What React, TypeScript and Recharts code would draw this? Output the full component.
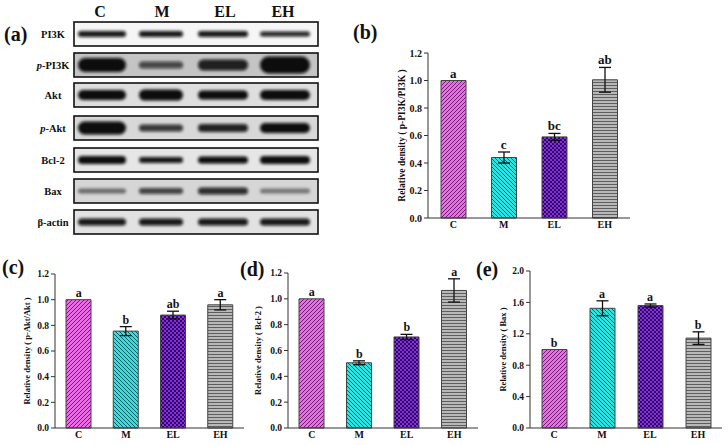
import React from "react";
import {
  ComposedChart,
  Bar,
  Line,
  XAxis,
  YAxis,
  ErrorBar,
  LabelList,
  Cell,
} from "recharts";

const groups = ["C", "M", "EL", "EH"];

// (b) p-PI3K / PI3K
const pi3kMean = [1.0, 0.44, 0.59, 1.005];
const pi3kErr = [0, 0.04, 0.025, 0.09];
const pi3kSig = ["a", "c", "bc", "ab"];

// (c) p-Akt / Akt
const aktMean = [1.0, 0.755, 0.88, 0.96];
const aktErr = [0, 0.035, 0.03, 0.04];
const aktSig = ["a", "b", "ab", "a"];

// (d) Bcl-2
const bcl2Mean = [1.0, 0.505, 0.705, 1.065];
const bcl2Err = [0, 0.015, 0.02, 0.09];
const bcl2Sig = ["a", "b", "b", "a"];

// (e) Bax
const baxMean = [1.0, 1.525, 1.56, 1.145];
const baxErr = [0, 0.095, 0.02, 0.08];
const baxSig = ["b", "a", "a", "b"];

const ticks12 = [0, 0.2, 0.4, 0.6, 0.8, 1.0, 1.2];
const ticks20 = [0, 0.4, 0.8, 1.2, 1.6, 2.0];

// western blot (a)
const blotRows = ["PI3K", "p-PI3K", "Akt", "p-Akt", "Bcl-2", "Bax", "β-actin"];
const bandThick = [
  [6, 6, 6, 5],
  [14, 7, 11, 17],
  [10, 11, 9, 10],
  [13, 7, 8, 10],
  [8, 6, 7, 8],
  [5, 6, 7, 5],
  [7, 7, 7, 7],
];
const bandDark = [
  [0.95, 0.95, 0.95, 0.9],
  [1, 0.7, 0.9, 1],
  [1, 1, 1, 1],
  [1, 0.8, 0.9, 1],
  [1, 0.95, 1, 1],
  [0.5, 0.75, 0.85, 0.45],
  [0.95, 0.95, 0.95, 0.95],
];
const blotBg = ["#f6f6f6", "#c4c4c4", "#dedede", "#d8d8d8", "#e6e6e6", "#d6d6d6", "#e2e2e2"];

const FONT = '"Liberation Serif", "Times New Roman", serif';

function patterns(id: string) {
  return (
    <defs>
      <pattern id={`${id}-C`} patternUnits="userSpaceOnUse" width="4" height="4">
        <rect width="4" height="4" fill="#ea6de6" />
        <path d="M-1,1 l2,-2 M0,4 l4,-4 M3,5 l2,-2" stroke="#6b2370" strokeWidth="1" />
      </pattern>
      <pattern id={`${id}-M`} patternUnits="userSpaceOnUse" width="4" height="4">
        <rect width="4" height="4" fill="#30e2e2" />
        <path d="M-1,3 l2,2 M0,0 l4,4 M3,-1 l2,2" stroke="#17585c" strokeWidth="1" />
      </pattern>
      <pattern id={`${id}-EL`} patternUnits="userSpaceOnUse" width="4" height="4">
        <rect width="4" height="4" fill="#8a2be8" />
        <rect width="2" height="2" fill="#2c0858" />
        <rect x="2" y="2" width="2" height="2" fill="#2c0858" />
      </pattern>
      <pattern id={`${id}-EH`} patternUnits="userSpaceOnUse" width="3" height="3">
        <rect width="3" height="3" fill="#b8b8b8" />
        <rect y="0" width="3" height="1" fill="#5e5e5e" />
      </pattern>
    </defs>
  );
}

interface PanelProps {
  id: string;
  left: number;
  top: number;
  width: number;
  height: number;
  yWidth: number;
  means: number[];
  errs: number[];
  sigs: string[];
  ticks: number[];
  title: string;
  titleDx: number;
  titleSize: number;
  tickSize: number;
  sigSize: number;
}

function Panel(p: PanelProps) {
  const data = groups.map((g, i) => ({
    g,
    v: p.means[i],
    e: p.errs[i],
    top: p.means[i] + p.errs[i],
    sig: p.sigs[i],
  }));
  const yMax = p.ticks[p.ticks.length - 1];
  return (
    <div style={{ position: "absolute", left: p.left, top: p.top }}>
      <ComposedChart
        width={p.width}
        height={p.height}
        data={data}
        margin={{ top: 10, right: 4, bottom: 0, left: 0 }}
      >
        {patterns(p.id)}
        <XAxis
          dataKey="g"
          height={14}
          interval={0}
          tickLine={false}
          tickSize={3}
          tickMargin={0}
          stroke="#333"
          tick={{ fill: "#111", fontSize: 10, fontWeight: 700, fontFamily: FONT }}
        />
        <YAxis
          width={p.yWidth}
          domain={[0, yMax]}
          ticks={p.ticks}
          tickSize={4}
          stroke="#333"
          tickFormatter={(v: number) => v.toFixed(1)}
          tick={{ fill: "#111", fontSize: p.tickSize, fontWeight: 700, fontFamily: FONT }}
          label={(lp: any) => {
            const vb = lp.viewBox || {};
            const cx = vb.x + p.titleDx;
            const cy = vb.y + vb.height / 2;
            return (
              <text
                x={cx}
                y={cy}
                transform={`rotate(-90 ${cx} ${cy})`}
                textAnchor="middle"
                dominantBaseline="central"
                fontFamily={FONT}
                fontWeight={700}
                fontSize={p.titleSize}
                fill="#111"
              >
                {p.title}
              </text>
            );
          }}
        />
        <Bar dataKey="v" barSize={25} stroke="#444" strokeWidth={1} isAnimationActive={false}>
          {data.map((d) => (
            <Cell key={d.g} fill={`url(#${p.id}-${d.g})`} />
          ))}
          <ErrorBar dataKey="e" width={6} stroke="#111" strokeWidth={1.3} direction="y" />
        </Bar>
        <Line
          dataKey="top"
          stroke="none"
          dot={false}
          activeDot={false}
          isAnimationActive={false}
        >
          <LabelList
            dataKey="sig"
            position="top"
            offset={3}
            fill="#111"
            fontSize={p.sigSize}
            fontWeight={700}
            fontFamily={FONT}
          />
        </Line>
      </ComposedChart>
    </div>
  );
}

function Blot() {
  const tops = [22, 53, 83, 116, 148, 179, 210];
  const lanes = [102, 161, 223, 285];
  const widths = [48, 44, 50, 50];
  const labX = [100, 162, 225, 283];
  return (
    <svg width={330} height={240} style={{ position: "absolute", left: 0, top: 0 }}>
      <defs>
        <filter id="blur" x="-20%" y="-60%" width="140%" height="220%">
          <feGaussianBlur stdDeviation="1.6" />
        </filter>
      </defs>
      {groups.map((g, i) => (
        <text
          key={g}
          x={labX[i]}
          y={17}
          textAnchor="middle"
          fontFamily={FONT}
          fontWeight={700}
          fontSize={16}
          fill="#111"
        >
          {g}
        </text>
      ))}
      {blotRows.map((r, ri) => {
        const y = tops[ri];
        const cy = y + 12;
        const italic = r.startsWith("p-");
        return (
          <g key={r}>
            <text
              x={53}
              y={cy}
              textAnchor="middle"
              dominantBaseline="central"
              fontFamily={FONT}
              fontWeight={700}
              fontSize={10.5}
              fill="#111"
            >
              {italic ? (
                <>
                  <tspan fontStyle="italic">p</tspan>
                  {r.slice(1)}
                </>
              ) : (
                r
              )}
            </text>
            <rect x={74} y={y} width={244} height={24} fill={blotBg[ri]} stroke="#111" strokeWidth={1.6} />
            {lanes.map((lx, li) => {
              const t = bandThick[ri][li];
              const w = widths[li];
              return (
                <rect
                  key={li}
                  x={lx - w / 2}
                  y={cy - t / 2}
                  width={w}
                  height={t}
                  rx={t / 2}
                  fill={`rgba(10,10,10,${bandDark[ri][li]})`}
                  filter="url(#blur)"
                />
              );
            })}
          </g>
        );
      })}
    </svg>
  );
}

function PanelTag({ text, x, y }: { text: string; x: number; y: number }) {
  return (
    <div
      style={{
        position: "absolute",
        left: x,
        top: y,
        fontFamily: FONT,
        fontWeight: 700,
        fontSize: 20,
        lineHeight: "20px",
        color: "#111",
      }}
    >
      {text}
    </div>
  );
}

export default function App() {
  return (
    <div
      style={{
        position: "absolute",
        left: 0,
        top: 0,
        width: 728,
        height: 445,
        background: "#fff",
        overflow: "hidden",
      }}
    >
      <Blot />
      <PanelTag text="(a)" x={4} y={24} />
      <PanelTag text="(b)" x={353} y={22} />
      <PanelTag text="(c)" x={2} y={257} />
      <PanelTag text="(d)" x={240} y={259} />
      <PanelTag text="(e)" x={476} y={259} />
      <Panel
        id="pb"
        left={360}
        top={43}
        width={274}
        height={189}
        yWidth={68}
        means={pi3kMean}
        errs={pi3kErr}
        sigs={pi3kSig}
        ticks={ticks12}
        title="Relative density ( p-PI3K/PI3K )"
        titleDx={42}
        titleSize={9.5}
        tickSize={10}
        sigSize={13}
      />
      <Panel
        id="pc"
        left={0}
        top={264}
        width={248}
        height={178}
        yWidth={55}
        means={aktMean}
        errs={aktErr}
        sigs={aktSig}
        ticks={ticks12}
        title="Relative density ( p-Akt/Akt )"
        titleDx={27}
        titleSize={8.5}
        tickSize={9.5}
        sigSize={12}
      />
      <Panel
        id="pd"
        left={240}
        top={263}
        width={242}
        height={179}
        yWidth={48}
        means={bcl2Mean}
        errs={bcl2Err}
        sigs={bcl2Sig}
        ticks={ticks12}
        title="Relative density ( Bcl-2 )"
        titleDx={18}
        titleSize={8.5}
        tickSize={9.5}
        sigSize={12}
      />
      <Panel
        id="pe"
        left={480}
        top={261}
        width={246}
        height={181}
        yWidth={50}
        means={baxMean}
        errs={baxErr}
        sigs={baxSig}
        ticks={ticks20}
        title="Relative density ( Bax )"
        titleDx={23}
        titleSize={8.5}
        tickSize={9.5}
        sigSize={12}
      />
    </div>
  );
}
